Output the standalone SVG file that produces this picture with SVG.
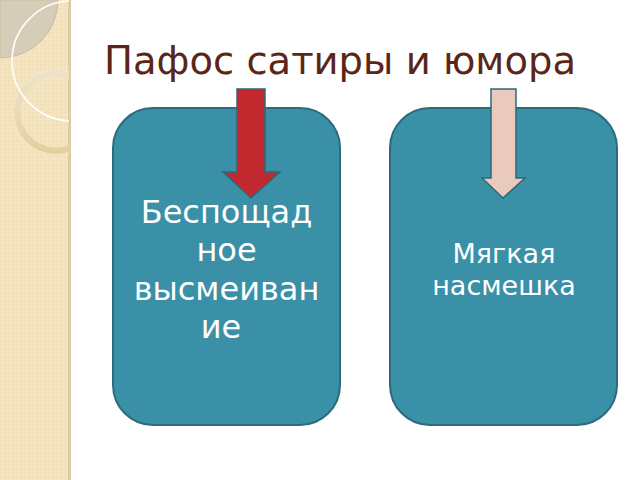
<svg xmlns="http://www.w3.org/2000/svg" width="640" height="480" viewBox="0 0 640 480">
<defs>
<style>
.box{fill:#3A90A7;stroke:#2C6B7C;stroke-width:2}
.lbl{font-family:"DejaVu Sans",sans-serif;fill:#ffffff;text-anchor:middle}
.arr{stroke:#2E6877;stroke-width:1.5;stroke-linejoin:miter}
</style>
<clipPath id="strip"><rect x="0" y="0" width="69" height="480"/></clipPath>
<linearGradient id="ringg" x1="0" y1="0" x2="0" y2="1">
<stop offset="0" stop-color="#EDE2C8"/>
<stop offset="0.5" stop-color="#E9DBB8"/>
<stop offset="1" stop-color="#E4CF9C"/>
</linearGradient>
<pattern id="tex" width="4" height="4" patternUnits="userSpaceOnUse">
<rect width="4" height="4" fill="#F4E5C0"/>
<rect width="2" height="2" fill="#F0DFB6"/>
</pattern>
</defs>
<rect width="640" height="480" fill="#ffffff"/>
<g id="decor">
<rect x="0" y="0" width="69" height="480" fill="url(#tex)"/>
<rect x="68" y="0" width="3" height="480" fill="#DCCDA8"/>
<g clip-path="url(#strip)">
<path d="M0,0 L58,0 A58,58 0 0 1 0,58 Z" fill="#D6CDB8" stroke="#C8BCA0" stroke-width="1"/>
<circle cx="56" cy="112" r="39" fill="none" stroke="url(#ringg)" stroke-width="7"/>
<circle cx="56" cy="112" r="42.5" fill="none" stroke="#F7EEDA" stroke-width="0.8" opacity="0.8"/>
<circle cx="72" cy="61" r="60" fill="none" stroke="#FFFFFF" stroke-width="1.6"/>
</g>
</g>
<text id="title" x="340" y="74" font-family="DejaVu Sans, sans-serif" font-size="38.5" fill="#5B2617" text-anchor="middle">Пафос сатиры и юмора</text>
<g id="node-left">
<rect class="box" x="113" y="108" width="227" height="317" rx="40" ry="40"/>
<text class="lbl" font-size="32"><tspan x="226.5" y="223">Беспощад</tspan><tspan x="226.5" y="261">ное</tspan><tspan x="226.5" y="300">высмеиван</tspan><tspan x="221" y="338">ие</tspan></text>
</g>
<g id="node-right">
<rect class="box" x="390" y="108" width="227" height="317" rx="40" ry="40"/>
<text class="lbl" font-size="27"><tspan x="504" y="263">Мягкая</tspan><tspan x="504" y="295">насмешка</tspan></text>
</g>
<g id="connectors">
<path class="arr" fill="#C1292E" d="M237,89 L265,89 L265,172 L280,172 L251,198 L223,172 L237,172 Z"/>
<path class="arr" fill="#EBCABE" d="M491,89 L516,89 L516,178 L525,178 L503,198 L482,178 L491,178 Z"/>
</g>
</svg>
